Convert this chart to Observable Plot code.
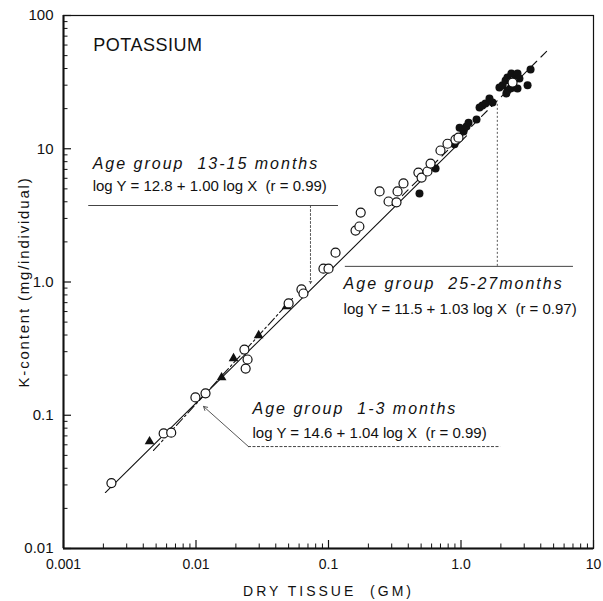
<!DOCTYPE html>
<html><head><meta charset="utf-8">
<script src="https://cdn.jsdelivr.net/npm/d3@7"></script>
<script src="https://cdn.jsdelivr.net/npm/@observablehq/plot@0.6"></script>
<style>
body{margin:0;background:#fff;}
[aria-label="title"]{letter-spacing:0.5px;}
g[aria-label="x-axis label"] text{letter-spacing:3px;}
g[aria-label="y-axis label"] text{letter-spacing:1.8px;}
[aria-label="group label"]{letter-spacing:2px;}
</style></head><body>
<div id="chart"></div>
<script>
// ---- axis ticks ----
const xTicks = [0.001, 0.01, 0.1, 1, 10];
const xTickLabels = ["0.001", "0.01", "0.1", "1.0", "10"];
const yTicks = [0.01, 0.1, 1, 10, 100];
const yTickLabels = ["0.01", "0.1", "1.0", "10", "100"];
const minorMultipliers = [2, 3, 4, 5, 6, 7, 8, 9];

// ---- data: open circles ----
const openX = [0.0023, 0.0057, 0.0065, 0.0099, 0.0118, 0.0232, 0.0245, 0.0237, 0.050, 0.0625, 0.0647, 0.0916, 0.100, 0.113, 0.160, 0.171, 0.175, 0.243, 0.284, 0.326, 0.332, 0.368, 0.477, 0.504, 0.558, 0.589, 0.700, 0.791, 0.908, 0.957, 2.45];
const openY = [0.031, 0.073, 0.074, 0.136, 0.146, 0.311, 0.262, 0.224, 0.69, 0.88, 0.82, 1.26, 1.26, 1.66, 2.43, 2.61, 3.32, 4.78, 4.02, 3.96, 4.78, 5.49, 6.63, 6.08, 6.75, 7.74, 9.70, 10.9, 11.7, 12.1, 31.4];
// ---- data: filled triangles ----
const triX = [0.00446, 0.0156, 0.0192, 0.0297, 0.0482];
const triY = [0.0635, 0.192, 0.267, 0.397, 0.655];
// ---- data: filled circles ----
const filledX = [0.486, 0.643, 0.893, 0.976, 1.045, 1.10, 1.14, 1.31, 1.38, 1.45, 1.53, 1.64, 1.73, 1.95, 2.06, 2.17, 2.24, 2.40, 2.58, 2.67, 2.76, 2.49, 2.36, 2.24, 2.20, 2.67, 3.18, 3.35];
const filledY = [4.62, 7.11, 10.8, 14.4, 13.5, 14.7, 15.7, 16.6, 20.4, 21.1, 21.9, 23.8, 22.2, 28.8, 29.9, 32.5, 34.3, 36.7, 35.5, 36.7, 33.7, 28.8, 28.3, 27.4, 26.0, 28.3, 29.9, 39.4];

// ---- regression lines (end points) ----
const solidX = [0.00207, 1.1];
const solidY = [0.0263, 12.5];
const dashDotX = [0.00478, 0.0535];
const dashDotY = [0.0544, 0.752];
const dashedX = [0.304, 4.73];
const dashedY = [3.75, 57.5];

// ---- annotation texts ----
const titleText = "POTASSIUM";
const groupLabels = ["Age group  13-15 months", "Age group  25-27months", "Age group  1-3 months"];
const equations = ["log Y = 12.8 + 1.00 log X  (r = 0.99)", "log Y = 11.5 + 1.03 log X  (r = 0.97)", "log Y = 14.6 + 1.04 log X  (r = 0.99)"];

const toPts = (xs, ys) => xs.map((x, i) => ({x, y: ys[i]}));
const openPts = toPts(openX, openY);
const triPts = toPts(triX, triY);
const filledPts = toPts(filledX, filledY);
const xMinor = xTicks.slice(0, -1).flatMap(t => minorMultipliers.map(k => k * t));
const yMinor = yTicks.slice(0, -1).flatMap(t => minorMultipliers.map(k => k * t));

const font = "'Liberation Sans', Arial, sans-serif";
const ink = "#111";
const lead = "#444";

// frame size (for inward tick insets)
const W = 603, H = 601, mL = 63, mR = 10, mT = 15, mB = 53;
const fw = W - mL - mR, fh = H - mT - mB;
const majorLen = 8, minorLen = 4.5;

const chart = Plot.plot({
  width: W,
  height: H,
  marginLeft: mL, marginRight: mR, marginTop: mT, marginBottom: mB,
  x: {type: "log", domain: [0.001, 10]},
  y: {type: "log", domain: [0.01, 100]},
  style: {fontFamily: font, fontSize: "14px", background: "white", color: ink},
  marks: [
    Plot.frame({stroke: ink, strokeWidth: 1.2}),
    Plot.ruleX([0.001], {stroke: ink, strokeWidth: 2}),
    Plot.ruleY([0.01], {stroke: ink, strokeWidth: 2}),
    // inward ticks on the bottom and left axes
    Plot.tickX(xMinor, {x: d => d, insetTop: fh - minorLen, stroke: ink, strokeWidth: 1}),
    Plot.tickX(xTicks, {x: d => d, insetTop: fh - majorLen, stroke: ink, strokeWidth: 1.2}),
    Plot.tickY(yMinor, {y: d => d, insetRight: fw - minorLen, stroke: ink, strokeWidth: 1}),
    Plot.tickY(yTicks, {y: d => d, insetRight: fw - majorLen, stroke: ink, strokeWidth: 1.2}),
    // tick labels + axis labels
    Plot.axisX(xTicks, {tickSize: 0, tickPadding: 11, tickFormat: d => xTickLabels[xTicks.indexOf(d)],
      label: "DRY TISSUE  (GM)", labelAnchor: "center", labelOffset: 47, labelArrow: "none", fontSize: 14}),
    Plot.axisY(yTicks, {tickSize: 0, tickPadding: 10, tickFormat: d => yTickLabels[yTicks.indexOf(d)],
      label: "K-content (mg/individual)", labelAnchor: "center", labelOffset: 45, labelArrow: "none", fontSize: 15}),

    // regression lines
    Plot.line(toPts(solidX, solidY), {x: "x", y: "y", stroke: ink, strokeWidth: 1.1}),
    Plot.line(toPts(dashDotX, dashDotY), {x: "x", y: "y", stroke: ink, strokeWidth: 1.1, strokeDasharray: "9,3,2,3"}),
    Plot.line(toPts(dashedX, dashedY), {x: "x", y: "y", stroke: ink, strokeWidth: 1.1, strokeDasharray: "8,6"}),

    // leaders: 13-15 months
    Plot.ruleY([{y: 3.75, x1: 0.00155, x2: 0.119}], {y: "y", x1: "x1", x2: "x2", stroke: lead, strokeWidth: 1}),
    Plot.arrow([{x: 0.0731, y1: 3.75, y2: 0.975}], {x: "x", y1: "y1", y2: "y2", stroke: lead, strokeWidth: 0.9, strokeDasharray: "2,2", headLength: 4}),
    // leaders: 25-27 months
    Plot.ruleY([{y: 1.31, x1: 0.134, x2: 7.06}], {y: "y", x1: "x1", x2: "x2", stroke: lead, strokeWidth: 1}),
    Plot.ruleX([{x: 1.88, y1: 1.31, y2: 21.9}], {x: "x", y1: "y1", y2: "y2", stroke: lead, strokeWidth: 0.9, strokeDasharray: "2,2"}),
    // leaders: 1-3 months
    Plot.ruleY([{y: 0.0582, x1: 0.0249, x2: 1.99}], {y: "y", x1: "x1", x2: "x2", stroke: lead, strokeWidth: 1, strokeDasharray: "3,1.5"}),
    Plot.arrow([{x1: 0.0249, y1: 0.0582, x2: 0.0114, y2: 0.1164}], {x1: "x1", y1: "y1", x2: "x2", y2: "y2", stroke: lead, strokeWidth: 0.9, headLength: 7}),

    // data points
    Plot.dot(triPts, {x: "x", y: "y", symbol: "triangle", fill: ink, r: 3.6}),
    Plot.dot(filledPts, {x: "x", y: "y", fill: ink, r: 4}),
    Plot.dot(openPts, {x: "x", y: "y", fill: "white", stroke: ink, strokeWidth: 1.2, r: 4.5}),

    // texts
    Plot.text([titleText], {x: 0.00168, y: 59.6, text: d => d, textAnchor: "start", fontSize: 18, ariaLabel: () => "title"}),
    Plot.text(groupLabels, {x: (d, i) => [0.00166, 0.130, 0.0267][i], y: (d, i) => [7.75, 0.975, 0.1125][i], text: d => d,
      textAnchor: "start", fontSize: 16, fontStyle: "italic", ariaLabel: () => "group label"}),
    Plot.text(equations, {x: (d, i) => [0.00166, 0.130, 0.0267][i], y: (d, i) => [5.21, 0.622, 0.073][i], text: d => d,
      textAnchor: "start", fontSize: 15})
  ]
});
document.getElementById("chart").appendChild(chart);
</script>
</body></html>
